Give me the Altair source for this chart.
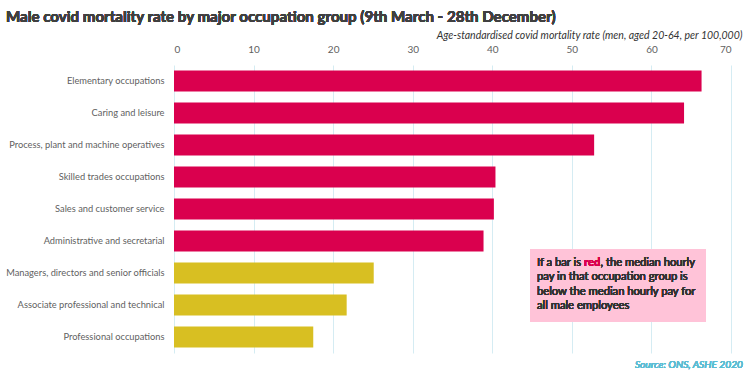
import altair as alt
import pandas as pd

occupations = [
    "Elementary occupations",
    "Caring and leisure",
    "Process, plant and machine operatives",
    "Skilled trades occupations",
    "Sales and customer service",
    "Administrative and secretarial",
    "Managers, directors and senior officials",
    "Associate professional and technical",
    "Professional occupations",
]
rates = [66.3, 64.1, 52.8, 40.4, 40.2, 38.9, 25.1, 21.7, 17.5]
pay_group = ["below", "below", "below", "below", "below", "below", "above", "above", "above"]
x_ticks = [0, 10, 20, 30, 40, 50, 60, 70]

df = pd.DataFrame({"occupation": occupations, "rate": rates, "pay": pay_group})

FONT = "Lato"
RED = "#DA004E"
GOLD = "#D8BF22"

bars = alt.Chart(df).mark_bar().encode(
    y=alt.Y(
        "occupation:N",
        sort=occupations,
        title=None,
        scale=alt.Scale(paddingInner=0.34, paddingOuter=0.17),
        axis=alt.Axis(
            domain=False, ticks=False, grid=False, labelPadding=10,
            labelFont=FONT, labelFontSize=9.3, labelColor="#5f5f5f", labelLimit=200,
        ),
    ),
    x=alt.X(
        "rate:Q",
        scale=alt.Scale(domain=[0, 70], nice=False),
        axis=alt.Axis(
            orient="top", values=x_ticks, domain=False, ticks=False, tickSize=0,
            labelPadding=11, labelFont=FONT, labelFontSize=10, labelColor="#5f5f5f",
            gridColor="#D5ECF3", gridWidth=1,
            title="Age-standardised covid mortality rate (men, aged 20-64, per 100,000)",
            titleFont=FONT, titleFontStyle="italic", titleFontWeight="normal",
            titleFontSize=10.5, titleColor="#333333",
            titleAnchor="end", titleAlign="right", titleBaseline="middle",
            titleX=568, titleY=-30,
        ),
    ),
    color=alt.Color("pay:N", scale=alt.Scale(domain=["below", "above"], range=[RED, GOLD]), legend=None),
)

title = alt.Chart(df).mark_text(
    text="Male covid mortality rate by major occupation group (9th March - 28th December)",
    font=FONT, fontSize=15.1, fontWeight="bold", color="#404040", align="left", baseline="middle",
).encode(x=alt.value(-168), y=alt.value(-48))

source = alt.Chart(df).mark_text(
    text="Source: ONS, ASHE 2020",
    font=FONT, fontSize=10.2, fontStyle="italic", color="#5BBDD3", align="right", baseline="middle",
).encode(x=alt.value(569), y=alt.value(300))

box = alt.Chart(df).mark_rect(color="#FFC3D8").encode(
    x=alt.value(356), x2=alt.value(532), y=alt.value(184), y2=alt.value(257)
)

tcol = "#333333"
tsize = 11.2
def txt(s, x, y, color=tcol, weight="normal"):
    return alt.Chart(df).mark_text(
        text=s, font=FONT, fontSize=tsize, color=color, fontWeight=weight,
        align="left", baseline="middle",
    ).encode(x=alt.value(x), y=alt.value(y))

note = [
    txt("If a bar is", 363, 198),
    txt("red", 410, 198, color=RED, weight="bold"),
    txt(", the median hourly", 426.5, 198),
    txt("pay in that occupation group is", 363, 212),
    txt("below the median hourly pay for", 363, 227),
    txt("all male employees", 363, 241),
]

chart = alt.layer(bars, box, *note, title, source).properties(
    width=557, height=288,
    autosize=alt.AutoSizeParams(type="none"),
    padding={"left": 174, "top": 65, "right": 19, "bottom": 23},
    background="white",
).configure_view(stroke=None)

chart.save("out.html", embed_options={"renderer": "svg", "actions": False})
